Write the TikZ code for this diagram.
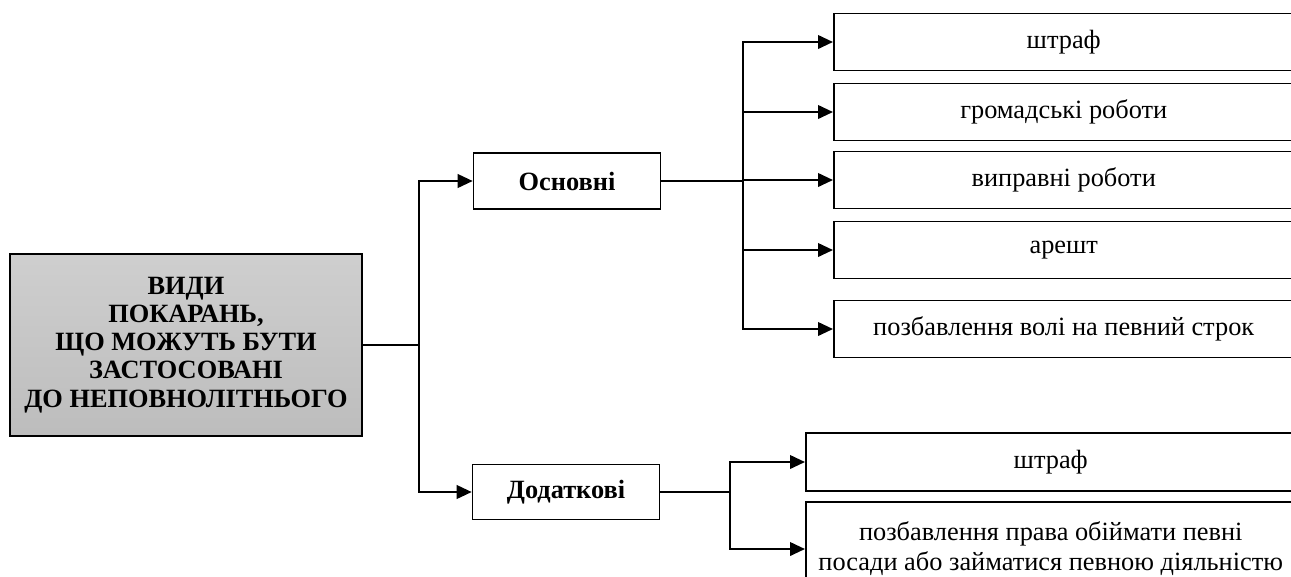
\documentclass[tikz,border=0pt]{standalone}
\usepackage{fontspec}
\setmainfont{Liberation Serif}
\usetikzlibrary{arrows.meta, positioning, calc}

\begin{document}
\begin{tikzpicture}[x=0.02cm, y=-0.02cm,
    box/.style={draw, line width=0.9pt, inner sep=2pt, align=center, font=\fontsize{15}{17}\selectfont},
    head/.style={box, font=\fontsize{15}{16}\selectfont\bfseries},
    kind/.style={box, minimum width=9.2cm, minimum height=1.14cm, anchor=west},
    link/.style={line width=1.3pt},
    arr/.style={link, -{Triangle[length=0.3cm,width=0.27cm]}}]
        \useasboundingbox (0,0) rectangle (1291,576);
        \clip (0,0) rectangle (1291,576);

        % Root box
        \node[head, top color=gray!38, bottom color=gray!52, minimum width=7.04cm, minimum height=3.64cm] (kinds) at (186,345)
          {ВИДИ\\ПОКАРАНЬ,\\ЩО МОЖУТЬ БУТИ\\ЗАСТОСОВАНІ\\ДО НЕПОВНОЛІТНЬОГО};

        % Two groups
        \node[head, minimum width=3.74cm, minimum height=1.12cm] (basic) at (567,181) {Основні};
        \node[head, minimum width=3.74cm, minimum height=1.10cm] (extra) at (566,492) {Додаткові};

        % Main punishments
        \foreach \i/\y/\t in {1/42/штраф, 2/112/громадські роботи, 3/180/виправні роботи,
                              4/250/арешт, 5/329/позбавлення волі на певний строк} {
          \node[kind] (p\i) at (833,\y) {\t};
        }

        % Additional punishments
        \node[kind, minimum width=9.8cm, minimum height=1.16cm] (a1) at (805,462) {штраф};
        \node[kind, minimum width=9.8cm, minimum height=1.88cm] (a2) at (805,549)
          {позбавлення права обіймати певні\\посади або займатися певною діяльністю};

        % Junctions
        \coordinate (j1) at ($(kinds.east)+(56,0)$);
        \coordinate (j2) at ($(basic.east)+(82,0)$);
        \coordinate (j3) at ($(extra.east)+(70,0)$);

        % Connectors
        \draw[link] (kinds.east) -- (j1);
        \draw[arr] (j1) |- (basic.west);
        \draw[arr] (j1) |- (extra.west);

        \draw[link] (basic.east) -- (j2);
        \foreach \i in {1,...,5} {
          \draw[arr] (j2) |- (p\i.west);
        }

        \draw[link] (extra.east) -- (j3);
        \draw[arr] (j3) |- (a1.west);
        \draw[arr] (j3) |- (a2.west);
    \end{tikzpicture}
\end{document}
